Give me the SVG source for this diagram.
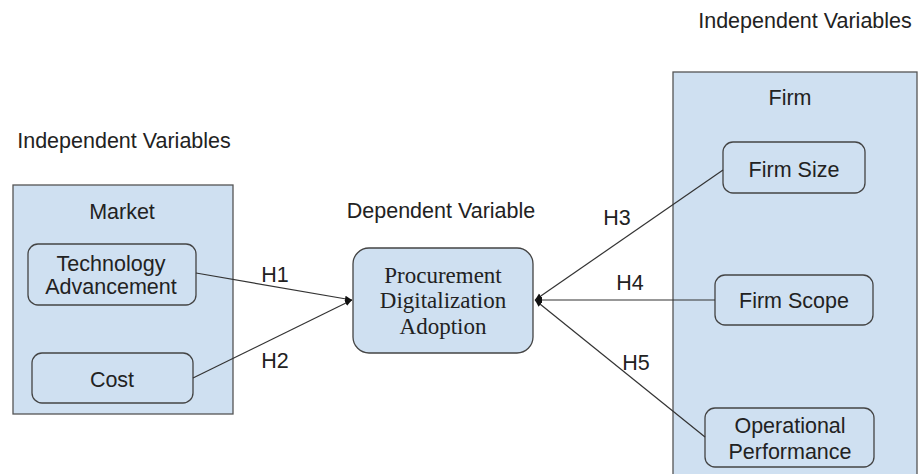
<svg xmlns="http://www.w3.org/2000/svg" width="919" height="474" viewBox="0 0 919 474">
<style>
.t{font-family:"Liberation Sans",Arial,sans-serif;font-size:21.5px;fill:#222;text-anchor:middle}
.s{font-family:"Liberation Serif","Times New Roman",serif;font-size:23px;fill:#222;text-anchor:middle}
.grp{fill:#cfe0f1;stroke:#555;stroke-width:1.3}
.nd{fill:#cfe0f1;stroke:#444;stroke-width:1.3}
.c{stroke:#333;stroke-width:1.2;fill:none}
</style>
<defs>
<marker id="a" markerWidth="8" markerHeight="8" refX="7" refY="4" orient="auto" markerUnits="userSpaceOnUse">
<path d="M0,1 L7,4 L0,7 Z" fill="#111"/>
</marker>
</defs>
<rect width="919" height="474" fill="#fff"/>
<text class="t" x="805" y="28">Independent Variables</text>
<text class="t" x="124" y="148">Independent Variables</text>
<text class="t" x="441" y="218">Dependent Variable</text>
<g id="market">
<rect class="grp" x="13" y="185" width="220" height="229"/>
<text class="t" x="122" y="219">Market</text>
</g>
<g id="tech">
<rect class="nd" x="28" y="244" width="168" height="61" rx="10"/>
<text class="t" x="111" y="271">Technology</text>
<text class="t" x="111" y="294">Advancement</text>
</g>
<g id="cost">
<rect class="nd" x="32" y="353" width="161" height="50" rx="10"/>
<text class="t" x="112" y="387">Cost</text>
</g>
<g id="firm">
<rect class="grp" x="673" y="72" width="244" height="410"/>
<text class="t" x="790" y="105">Firm</text>
</g>
<g id="firmsize">
<rect class="nd" x="723" y="142" width="142" height="51" rx="10"/>
<text class="t" x="794" y="177">Firm Size</text>
</g>
<g id="firmscope">
<rect class="nd" x="715" y="275" width="158" height="50" rx="10"/>
<text class="t" x="794" y="308">Firm Scope</text>
</g>
<g id="opperf">
<rect class="nd" x="705" y="408" width="169" height="59" rx="10"/>
<text class="t" x="790" y="433">Operational</text>
<text class="t" x="790" y="459">Performance</text>
</g>
<g id="pda">
<rect class="nd" x="353" y="248" width="180" height="105" rx="16"/>
<text class="s" x="443" y="283">Procurement</text>
<text class="s" x="443" y="308">Digitalization</text>
<text class="s" x="443" y="334">Adoption</text>
</g>
<g id="connectors">
<line class="c" x1="196" y1="273" x2="352" y2="300" marker-end="url(#a)"/>
<line class="c" x1="193" y1="378" x2="352" y2="300" marker-end="url(#a)"/>
<line class="c" x1="723" y1="170" x2="535" y2="300" marker-end="url(#a)"/>
<line class="c" x1="715" y1="300" x2="535" y2="300" marker-end="url(#a)"/>
<line class="c" x1="705" y1="437" x2="535" y2="300" marker-end="url(#a)"/>
<text class="t" x="275" y="282">H1</text>
<text class="t" x="275" y="368">H2</text>
<text class="t" x="617" y="225">H3</text>
<text class="t" x="630" y="290">H4</text>
<text class="t" x="636" y="370">H5</text>
</g>
</svg>
